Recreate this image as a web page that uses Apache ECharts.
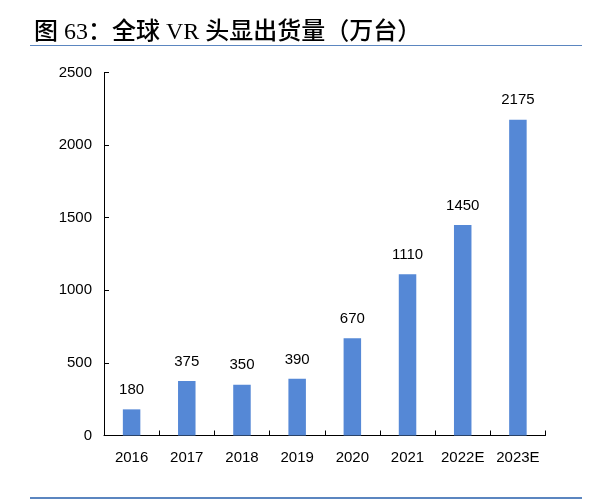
<!DOCTYPE html>
<html lang="zh">
<head>
<meta charset="UTF-8">
<title>全球 VR 头显出货量</title>
<script src="https://cdn.jsdelivr.net/npm/echarts@6/dist/echarts.min.js"></script>
<style>
  html, body { margin: 0; padding: 0; background: #fff; }
  #chart { width: 589px; height: 504px; }
</style>
</head>
<body>
<div id="chart"></div>
<script>
// 数据
var years = ['2016', '2017', '2018', '2019', '2020', '2021', '2022E', '2023E'];
var shipments = [180, 375, 350, 390, 670, 1110, 1450, 2175];

var chart = echarts.init(document.getElementById('chart'));

var option = {
  animation: false,
  title: {
    text: '图 63：全球 VR 头显出货量（万台）',
    left: 29,
    top: 16,
    textStyle: {
      fontFamily: '"Liberation Serif", "Noto Sans CJK SC"',
      fontSize: 24,
      fontWeight: 500,
      color: '#000'
    }
  },
  graphic: [
    { type: 'line', shape: { x1: 30, y1: 45.5, x2: 582, y2: 45.5 },
      style: { stroke: '#5b86c0', lineWidth: 1.2 } },
    { type: 'line', shape: { x1: 30, y1: 498, x2: 582, y2: 498 },
      style: { stroke: '#5b86c0', lineWidth: 2 } }
  ],
  grid: { left: 104, right: 43.5, top: 72.5, bottom: 68.5 },
  xAxis: {
    type: 'category',
    data: years,
    axisLine: { lineStyle: { color: '#000', width: 1 } },
    axisTick: { show: true, inside: true, length: 5, alignWithLabel: false, lineStyle: { color: '#000' } },
    axisLabel: { interval: 0, color: '#000', fontSize: 15, fontFamily: '"Liberation Sans", Arial', margin: 15 }
  },
  yAxis: {
    type: 'value',
    min: 0,
    max: 2500,
    interval: 500,
    axisLine: { show: true, lineStyle: { color: '#000', width: 1 } },
    axisTick: { show: true, inside: true, length: 5, lineStyle: { color: '#000' } },
    splitLine: { show: false },
    axisLabel: {
      color: '#000', fontSize: 15, fontFamily: '"Liberation Sans", Arial', margin: 12,
      formatter: function (v) { return String(v); }
    }
  },
  series: [{
    type: 'bar',
    data: shipments,
    barWidth: 17.5,
    itemStyle: { color: '#5588d6' },
    label: {
      show: true,
      position: 'top',
      distance: 12,
      color: '#000',
      fontSize: 15,
      fontFamily: '"Liberation Sans", Arial'
    }
  }]
};

chart.setOption(option);
</script>
</body>
</html>
